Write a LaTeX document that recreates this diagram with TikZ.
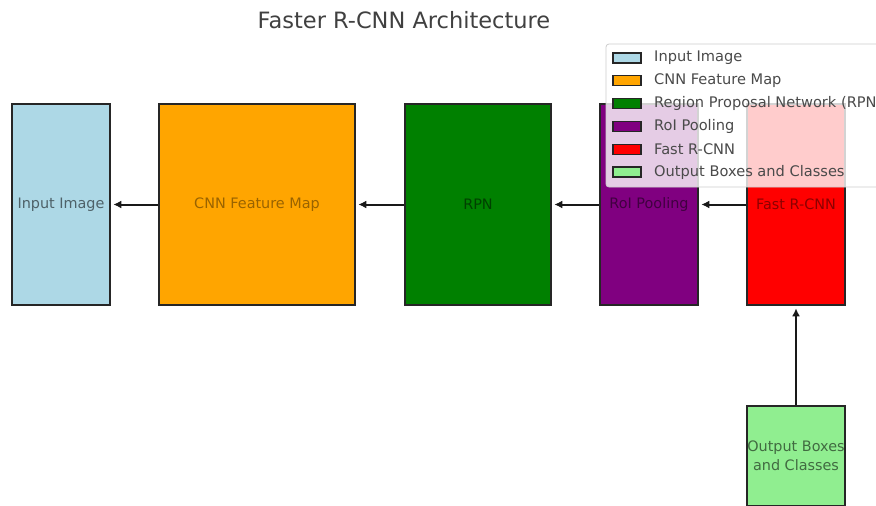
\documentclass[tikz,border=0pt]{standalone}
\usepackage{fontspec}
\setmainfont{DejaVu Sans}
\usetikzlibrary{arrows.meta}
\definecolor{cLB}{HTML}{ADD8E6}
\definecolor{cOR}{HTML}{FFA500}
\definecolor{cGR}{HTML}{008000}
\definecolor{cPU}{HTML}{800080}
\definecolor{cRE}{HTML}{FF0000}
\definecolor{cLG}{HTML}{90EE90}
\definecolor{txtgray}{HTML}{404040}
\definecolor{leggray}{HTML}{4A4A4A}
\begin{document}
\begin{tikzpicture}[x=1pt,y=-1pt,
  blk/.style={draw=black!85, line width=1.6pt, inner sep=0pt, minimum height=201pt,
    font=\fontsize{14.4}{18}\selectfont, align=center},
  conn/.style={-{Latex[length=8pt,width=8pt]}, line width=2pt, black!90, shorten >=2.5pt},
  legpatch/.style={draw=black!85, line width=1.3pt, minimum width=28pt, minimum height=10pt, inner sep=0pt},
  legtext/.style={anchor=west, text=leggray, font=\fontsize{14.6}{16}\selectfont, inner sep=0pt}
]
\useasboundingbox (0,0) rectangle (876,506);
\clip (0,0) rectangle (876,506);

\node[text=txtgray, font=\fontsize{22.5}{26}\selectfont] (title) at (404,20) {Faster R-CNN Architecture};

\node[blk, fill=cLB, minimum width=98pt, text=cLB!45!black] (inp) at (61,204.5) {Input Image};
\node[blk, fill=cOR, minimum width=196pt, text=cOR!60!black] (cnn) at (257,204.5) {CNN Feature Map};
\node[blk, fill=cGR, minimum width=146pt, text=cGR!50!black] (rpn) at (478,204.5) {RPN};
\node[blk, fill=cPU, minimum width=98pt, text=cPU!50!black] (roi) at (649,204.5) {RoI Pooling};
\node[blk, fill=cRE, minimum width=98pt, text=cRE!55!black] (frc) at (796,204.5) {Fast R-CNN};
\node[blk, fill=cLG, minimum width=98pt, minimum height=100pt, text=cLG!45!black,
  font=\fontsize{14.4}{19}\selectfont] (out) at (796,456) {Output Boxes\\and Classes};

\draw[conn] (cnn.west) -- (inp.east);
\draw[conn] (rpn.west) -- (cnn.east);
\draw[conn] (roi.west) -- (rpn.east);
\draw[conn] (frc.west) -- (roi.east);
\draw[conn] (out.north) -- (frc.south);

% legend
\draw[draw=black!20, line width=0.8pt, fill=white, fill opacity=0.8, rounded corners=3pt]
  (606,44) rectangle (900,187);
\node[legpatch, fill=cLB] (p1) at (627,58) {};
\node[legpatch, fill=cOR] (p2) at (627,80.8) {};
\node[legpatch, fill=cGR] (p3) at (627,103.6) {};
\node[legpatch, fill=cPU] (p4) at (627,126.4) {};
\node[legpatch, fill=cRE] (p5) at (627,149.2) {};
\node[legpatch, fill=cLG] (p6) at (627,172) {};
\node[legtext] (l1) at (654,58) {Input Image};
\node[legtext] (l2) at (654,80.8) {CNN Feature Map};
\node[legtext] (l3) at (654,103.6) {Region Proposal Network (RPN)};
\node[legtext] (l4) at (654,126.4) {RoI Pooling};
\node[legtext] (l5) at (654,149.2) {Fast R-CNN};
\node[legtext] (l6) at (654,172) {Output Boxes and Classes};
\end{tikzpicture}
\end{document}
